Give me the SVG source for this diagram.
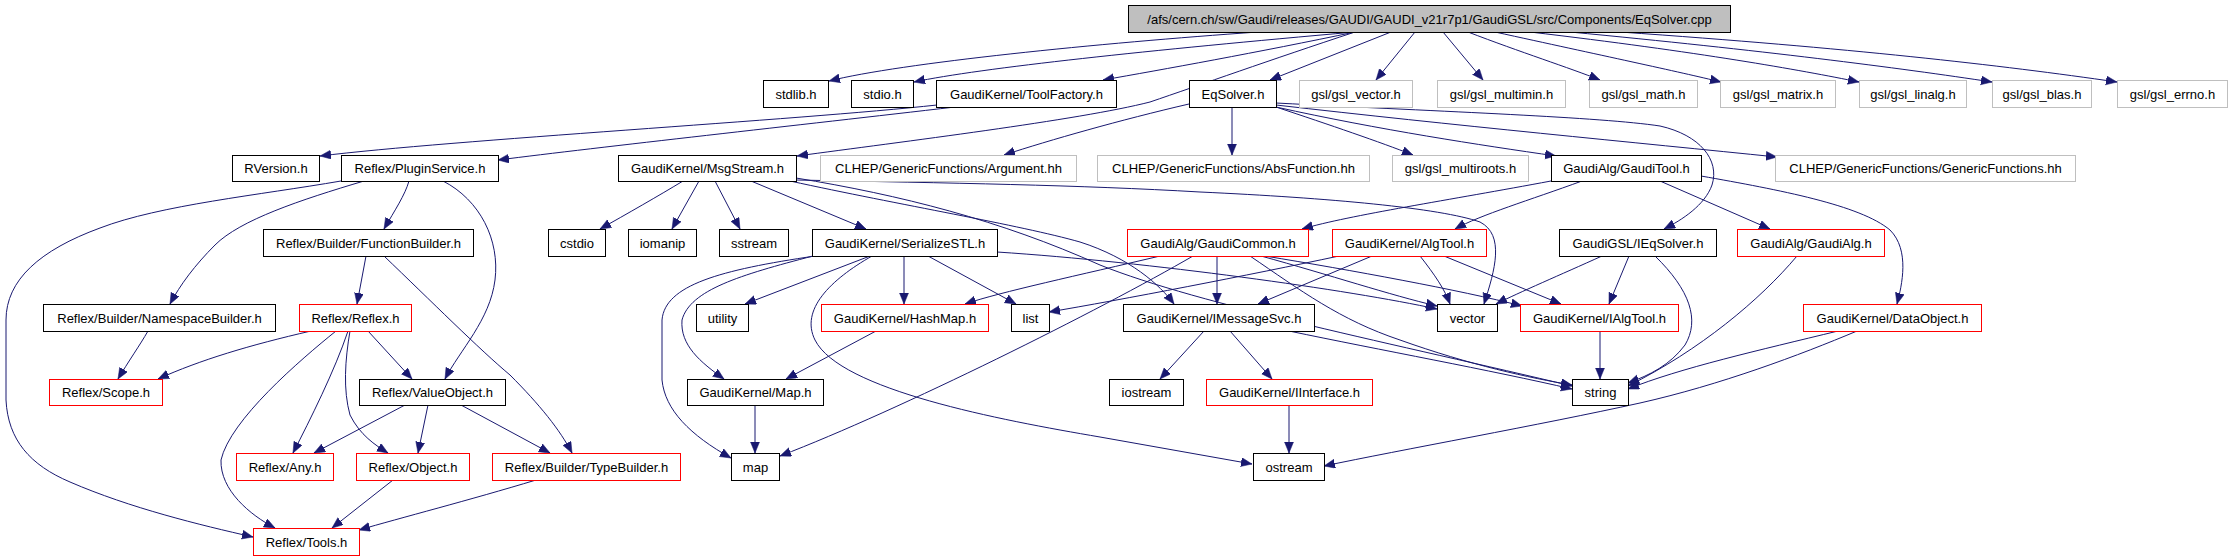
<svg xmlns="http://www.w3.org/2000/svg" width="2232" height="560" viewBox="0 0 2232 560">
<style>
.nd rect{fill:#fff;stroke:#000;stroke-width:1}
.nd.r rect{stroke:#f00}
.nd.g rect{stroke:#bfbfbf}
.nd.top rect{fill:#bfbfbf}
.nd text{font-family:"Liberation Sans",Arial,sans-serif;font-size:13px;text-anchor:middle;fill:#000}
#edges path{fill:none;stroke:#191970;stroke-width:1;marker-end:url(#ah)}
</style>
<defs>
<marker id="ah" markerUnits="userSpaceOnUse" markerWidth="12" markerHeight="10" refX="11" refY="4.5" orient="auto">
<path d="M0,0 L11,4.5 L0,9 z" fill="#191970" stroke="#191970" stroke-width="0.5"/>
</marker>
</defs>
<rect width="2232" height="560" fill="#fff"/>
<g id="edges">
<path d="M1258,32 C1100,43 900,63 829,81"/>
<path d="M1355,32 C1150,50 980,68 914,82"/>
<path d="M1355,32 C1260,52 1160,70 1103,80"/>
<path d="M1355,32 C1270,60 1200,85 1150,102 C1080,120 900,142 797,156"/>
<path d="M1391,32 L1270,80"/>
<path d="M1415,32 L1376,80"/>
<path d="M1443,32 L1483,80"/>
<path d="M1468,32 C1520,52 1570,68 1600,80"/>
<path d="M1495,32 C1600,55 1680,72 1721,82"/>
<path d="M1530,32 C1700,52 1800,70 1859,82"/>
<path d="M1570,32 C1760,50 1900,68 1992,82"/>
<path d="M1620,32 C1850,48 2000,65 2117,82"/>
<path d="M937,105 C800,120 450,140 320,156"/>
<path d="M955,107 C800,125 600,147 498,160"/>
<path d="M1189,104 C1120,120 1050,140 1004,155"/>
<path d="M1232,107 L1232,155"/>
<path d="M1276,107 C1330,125 1380,142 1413,155"/>
<path d="M1276,107 C1380,130 1480,145 1556,156"/>
<path d="M1276,105 C1450,125 1640,143 1777,157"/>
<path d="M1276,103 C1450,112 1600,117 1660,126 C1700,135 1720,160 1712,185 C1705,205 1682,220 1664,229"/>
<path d="M1551,181 C1450,200 1350,215 1302,229"/>
<path d="M1582,181 C1530,200 1480,215 1455,229"/>
<path d="M1660,181 L1770,229"/>
<path d="M1701,176 C1780,190 1860,205 1890,230 C1910,250 1902,285 1897,304"/>
<path d="M683,181 C660,195 625,215 600,229"/>
<path d="M699,181 L672,229"/>
<path d="M715,181 L740,229"/>
<path d="M751,181 L866,229"/>
<path d="M790,181 C900,205 1020,225 1080,242 C1130,258 1160,285 1174,304"/>
<path d="M796,180 C950,183 1080,185 1200,192 C1330,198 1440,208 1480,222 C1505,235 1495,270 1484,304"/>
<path d="M796,178 C900,195 1000,220 1100,265 C1200,305 1400,345 1572,386"/>
<path d="M341,181 C260,195 160,205 100,228 C40,250 6,280 6,320 L6,400 C8,440 30,465 70,482 C130,508 200,525 253,537"/>
<path d="M364,181 C300,200 240,220 215,245 C195,265 180,285 170,304"/>
<path d="M409,181 C405,195 395,210 384,229"/>
<path d="M443,181 C480,200 500,240 495,280 C490,320 460,350 445,379"/>
<path d="M366,256 L357,304"/>
<path d="M384,256 C430,300 480,350 510,375 C540,405 560,430 572,453"/>
<path d="M148,331 C140,345 128,362 118,379"/>
<path d="M311,331 C250,345 200,360 158,379"/>
<path d="M336,331 C300,360 230,420 221,460 C220,490 250,515 275,528"/>
<path d="M348,331 C335,370 310,420 293,453"/>
<path d="M350,331 C345,360 343,390 350,415 C360,435 375,445 388,453"/>
<path d="M368,331 L412,379"/>
<path d="M405,405 L314,453"/>
<path d="M428,405 L418,453"/>
<path d="M461,405 L550,453"/>
<path d="M393,480 L332,528"/>
<path d="M536,480 C470,500 400,518 359,530"/>
<path d="M870,256 L745,304"/>
<path d="M904,256 L904,304"/>
<path d="M928,256 L1016,304"/>
<path d="M815,256 C720,270 665,285 662,320 L662,380 C665,410 690,435 731,458"/>
<path d="M813,256 C740,275 690,290 682,320 C680,345 700,362 724,379"/>
<path d="M872,256 C830,280 800,310 815,340 C840,390 1000,420 1100,437 L1252,464"/>
<path d="M997,252 C1150,262 1350,290 1437,309"/>
<path d="M1217,256 L1217,304"/>
<path d="M1160,256 C1080,275 1000,292 965,304"/>
<path d="M1193,256 C1100,310 900,410 780,456"/>
<path d="M1261,256 C1330,275 1390,295 1437,306"/>
<path d="M1265,256 C1350,270 1460,290 1522,306"/>
<path d="M1250,256 C1300,290 1340,320 1400,340 C1470,365 1530,378 1572,385"/>
<path d="M1372,256 L1258,304"/>
<path d="M1420,256 C1435,275 1445,290 1450,304"/>
<path d="M1444,256 L1561,304"/>
<path d="M1339,256 C1250,275 1120,300 1049,312"/>
<path d="M1602,256 C1560,275 1520,292 1496,304"/>
<path d="M1629,256 L1609,304"/>
<path d="M1655,256 C1690,290 1700,320 1685,345 C1670,365 1650,375 1628,383"/>
<path d="M1797,256 C1760,300 1700,350 1628,386"/>
<path d="M1838,331 C1760,350 1680,368 1628,389"/>
<path d="M1857,331 C1800,355 1720,385 1640,403 C1540,425 1400,450 1324,466"/>
<path d="M1204,331 L1160,379"/>
<path d="M1230,331 L1272,379"/>
<path d="M1289,331 C1380,350 1490,370 1572,389"/>
<path d="M1289,405 L1289,453"/>
<path d="M1600,331 L1600,379"/>
<path d="M876,331 L786,379"/>
<path d="M755,405 L755,453"/>
</g>
<g id="n_cpp" class="nd top"><rect x="1128.5" y="5.5" width="602" height="27"/><text x="1429.5" y="23.5">/afs/cern.ch/sw/Gaudi/releases/GAUDI/GAUDI_v21r7p1/GaudiGSL/src/Components/EqSolver.cpp</text></g>
<g id="n_stdlib" class="nd"><rect x="763.5" y="80.5" width="65" height="27"/><text x="796" y="98.5">stdlib.h</text></g>
<g id="n_stdio" class="nd"><rect x="851.5" y="80.5" width="62" height="27"/><text x="882.5" y="98.5">stdio.h</text></g>
<g id="n_toolfactory" class="nd"><rect x="936.5" y="80.5" width="180" height="27"/><text x="1026.5" y="98.5">GaudiKernel/ToolFactory.h</text></g>
<g id="n_eqsolverh" class="nd"><rect x="1189.5" y="80.5" width="87" height="27"/><text x="1233" y="98.5">EqSolver.h</text></g>
<g id="n_gsl_vector" class="nd g"><rect x="1299.5" y="80.5" width="113" height="27"/><text x="1356" y="98.5">gsl/gsl_vector.h</text></g>
<g id="n_gsl_multimin" class="nd g"><rect x="1437.5" y="80.5" width="128" height="27"/><text x="1501.5" y="98.5">gsl/gsl_multimin.h</text></g>
<g id="n_gsl_math" class="nd g"><rect x="1589.5" y="80.5" width="108" height="27"/><text x="1643.5" y="98.5">gsl/gsl_math.h</text></g>
<g id="n_gsl_matrix" class="nd g"><rect x="1720.5" y="80.5" width="115" height="27"/><text x="1778" y="98.5">gsl/gsl_matrix.h</text></g>
<g id="n_gsl_linalg" class="nd g"><rect x="1859.5" y="80.5" width="107" height="27"/><text x="1913" y="98.5">gsl/gsl_linalg.h</text></g>
<g id="n_gsl_blas" class="nd g"><rect x="1992.5" y="80.5" width="99" height="27"/><text x="2042" y="98.5">gsl/gsl_blas.h</text></g>
<g id="n_gsl_errno" class="nd g"><rect x="2117.5" y="80.5" width="110" height="27"/><text x="2172.5" y="98.5">gsl/gsl_errno.h</text></g>
<g id="n_rversion" class="nd"><rect x="232.5" y="155.5" width="87" height="26"/><text x="276" y="173">RVersion.h</text></g>
<g id="n_pluginservice" class="nd"><rect x="341.5" y="155.5" width="157" height="26"/><text x="420" y="173">Reflex/PluginService.h</text></g>
<g id="n_msgstream" class="nd"><rect x="618.5" y="155.5" width="178" height="26"/><text x="707.5" y="173">GaudiKernel/MsgStream.h</text></g>
<g id="n_argument" class="nd g"><rect x="820.5" y="155.5" width="256" height="26"/><text x="948.5" y="173">CLHEP/GenericFunctions/Argument.hh</text></g>
<g id="n_absfunction" class="nd g"><rect x="1097.5" y="155.5" width="272" height="26"/><text x="1233.5" y="173">CLHEP/GenericFunctions/AbsFunction.hh</text></g>
<g id="n_multiroots" class="nd g"><rect x="1392.5" y="155.5" width="136" height="26"/><text x="1460.5" y="173">gsl/gsl_multiroots.h</text></g>
<g id="n_gauditool" class="nd"><rect x="1551.5" y="155.5" width="150" height="26"/><text x="1626.5" y="173">GaudiAlg/GaudiTool.h</text></g>
<g id="n_genericfunctions" class="nd g"><rect x="1775.5" y="155.5" width="300" height="26"/><text x="1925.5" y="173">CLHEP/GenericFunctions/GenericFunctions.hh</text></g>
<g id="n_functionbuilder" class="nd"><rect x="263.5" y="229.5" width="210" height="27"/><text x="368.5" y="247.5">Reflex/Builder/FunctionBuilder.h</text></g>
<g id="n_cstdio" class="nd"><rect x="548.5" y="229.5" width="57" height="27"/><text x="577" y="247.5">cstdio</text></g>
<g id="n_iomanip" class="nd"><rect x="628.5" y="229.5" width="68" height="27"/><text x="662.5" y="247.5">iomanip</text></g>
<g id="n_sstream" class="nd"><rect x="719.5" y="229.5" width="69" height="27"/><text x="754" y="247.5">sstream</text></g>
<g id="n_serializestl" class="nd"><rect x="812.5" y="229.5" width="185" height="27"/><text x="905" y="247.5">GaudiKernel/SerializeSTL.h</text></g>
<g id="n_gaudicommon" class="nd r"><rect x="1127.5" y="229.5" width="181" height="27"/><text x="1218" y="247.5">GaudiAlg/GaudiCommon.h</text></g>
<g id="n_algtool" class="nd r"><rect x="1332.5" y="229.5" width="154" height="27"/><text x="1409.5" y="247.5">GaudiKernel/AlgTool.h</text></g>
<g id="n_ieqsolver" class="nd"><rect x="1559.5" y="229.5" width="157" height="27"/><text x="1638" y="247.5">GaudiGSL/IEqSolver.h</text></g>
<g id="n_gaudialg" class="nd r"><rect x="1737.5" y="229.5" width="147" height="27"/><text x="1811" y="247.5">GaudiAlg/GaudiAlg.h</text></g>
<g id="n_namespacebuilder" class="nd"><rect x="43.5" y="304.5" width="232" height="27"/><text x="159.5" y="322.5">Reflex/Builder/NamespaceBuilder.h</text></g>
<g id="n_reflexh" class="nd r"><rect x="299.5" y="304.5" width="112" height="27"/><text x="355.5" y="322.5">Reflex/Reflex.h</text></g>
<g id="n_utility" class="nd"><rect x="696.5" y="304.5" width="52" height="27"/><text x="722.5" y="322.5">utility</text></g>
<g id="n_hashmap" class="nd r"><rect x="821.5" y="304.5" width="167" height="27"/><text x="905" y="322.5">GaudiKernel/HashMap.h</text></g>
<g id="n_list" class="nd"><rect x="1011.5" y="304.5" width="38" height="27"/><text x="1030.5" y="322.5">list</text></g>
<g id="n_imessagesvc" class="nd"><rect x="1123.5" y="304.5" width="191" height="27"/><text x="1219" y="322.5">GaudiKernel/IMessageSvc.h</text></g>
<g id="n_vector" class="nd"><rect x="1437.5" y="304.5" width="60" height="27"/><text x="1467.5" y="322.5">vector</text></g>
<g id="n_ialgtool" class="nd r"><rect x="1520.5" y="304.5" width="158" height="27"/><text x="1599.5" y="322.5">GaudiKernel/IAlgTool.h</text></g>
<g id="n_dataobject" class="nd r"><rect x="1803.5" y="304.5" width="178" height="27"/><text x="1892.5" y="322.5">GaudiKernel/DataObject.h</text></g>
<g id="n_scope" class="nd r"><rect x="49.5" y="379.5" width="113" height="26"/><text x="106" y="397">Reflex/Scope.h</text></g>
<g id="n_valueobject" class="nd"><rect x="359.5" y="379.5" width="146" height="26"/><text x="432.5" y="397">Reflex/ValueObject.h</text></g>
<g id="n_maph" class="nd"><rect x="687.5" y="379.5" width="136" height="26"/><text x="755.5" y="397">GaudiKernel/Map.h</text></g>
<g id="n_iostream" class="nd"><rect x="1109.5" y="379.5" width="74" height="26"/><text x="1146.5" y="397">iostream</text></g>
<g id="n_iinterface" class="nd r"><rect x="1206.5" y="379.5" width="166" height="26"/><text x="1289.5" y="397">GaudiKernel/IInterface.h</text></g>
<g id="n_string" class="nd"><rect x="1572.5" y="379.5" width="56" height="26"/><text x="1600.5" y="397">string</text></g>
<g id="n_any" class="nd r"><rect x="236.5" y="453.5" width="97" height="27"/><text x="285" y="471.5">Reflex/Any.h</text></g>
<g id="n_object" class="nd r"><rect x="356.5" y="453.5" width="113" height="27"/><text x="413" y="471.5">Reflex/Object.h</text></g>
<g id="n_typebuilder" class="nd r"><rect x="492.5" y="453.5" width="188" height="27"/><text x="586.5" y="471.5">Reflex/Builder/TypeBuilder.h</text></g>
<g id="n_map" class="nd"><rect x="731.5" y="453.5" width="48" height="27"/><text x="755.5" y="471.5">map</text></g>
<g id="n_ostream" class="nd"><rect x="1253.5" y="453.5" width="71" height="27"/><text x="1289" y="471.5">ostream</text></g>
<g id="n_tools" class="nd r"><rect x="253.5" y="528.5" width="106" height="27"/><text x="306.5" y="546.5">Reflex/Tools.h</text></g>
</svg>
